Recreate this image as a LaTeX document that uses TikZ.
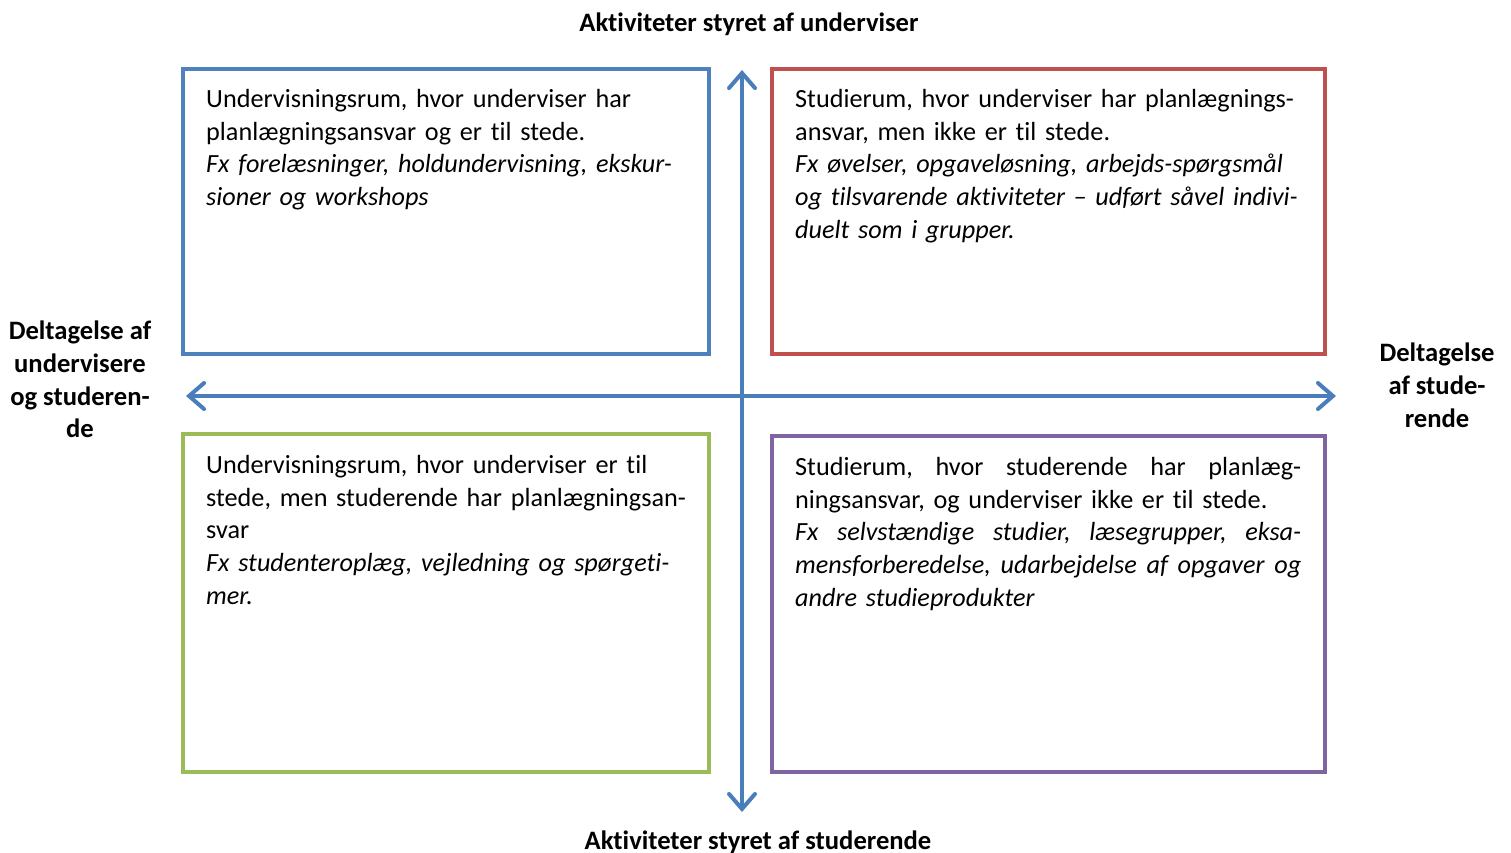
\documentclass[tikz,border=0pt]{standalone}
\usepackage{fontspec}
\setmainfont{Carlito}[Ligatures=NoCommon]
\usetikzlibrary{arrows.meta,fit}
\definecolor{cblue}{HTML}{4F81BD}
\definecolor{cred}{HTML}{C0504D}
\definecolor{cgreen}{HTML}{9BBB59}
\definecolor{cpurple}{HTML}{8064A2}
\definecolor{caxis}{HTML}{4A7EBB}
\newcommand{\jline}[1]{\leavevmode\hbox to 506pt{#1}}
\tikzset{
  quad/.style={draw=#1, line width=4pt, inner sep=0pt, rectangle},
  body/.style={anchor=north west, inner sep=0pt, align=left, text width=#1,
    font=\fontsize{26.2}{32.7}\selectfont},
  lbl/.style={inner sep=0pt, align=center, font=\fontsize{26.6}{32.7}\selectfont\bfseries},
  axis/.style={draw=caxis, line width=4pt, line cap=round,
    {Straight Barb[length=15pt,width=26pt,line cap=round]}-{Straight Barb[length=15pt,width=26pt,line cap=round]}}
}
\begin{document}
\begin{tikzpicture}[x=1pt,y=-1pt]
\useasboundingbox (0,0) rectangle (1511,852);
% quadrant frames
\node[quad=cblue, fit={(183,69) (709,354)}] (q1) {};
\node[quad=cred, fit={(772,69) (1325,354)}] (q2) {};
\node[quad=cgreen, fit={(183,434) (709,772)}] (q3) {};
\node[quad=cpurple, fit={(772,436) (1325,772)}] (q4) {};
% axes
\coordinate (ytop) at (742,70);
\coordinate (ybot) at (742,812);
\coordinate (xl) at (186,396);
\coordinate (xr) at (1336,396);
\draw[axis] (ybot) -- (ytop);
\draw[axis] (xl) -- (xr);
% texts
\node[body=500pt] (t1) at (206,89) {Undervisningsrum, hvor underviser har\\
planlægningsansvar og er til stede.\\
\itshape Fx forelæsninger, holdundervisning, ekskur-\\
\itshape sioner og workshops};
\node[body=530pt] (t2) at (795,89) {Studierum, hvor underviser har planlægnings-\\
ansvar, men ikke er til stede.\\
\itshape Fx øvelser, opgaveløsning, arbejds-spørgsmål\\
\itshape og tilsvarende aktiviteter – udført såvel indivi-\\
\itshape duelt som i grupper.};
\node[body=500pt] (t3) at (206,455) {Undervisningsrum, hvor underviser er til\\
stede, men studerende har planlægningsan-\\
svar\\
\itshape Fx studenteroplæg, vejledning og spørgeti-\\
\itshape mer.};
\node[body=520pt] (t4) at (795,457) {\jline{Studierum,\hfill hvor\hfill studerende\hfill har\hfill planlæg-}\\
ningsansvar, og underviser ikke er til stede.\\
\itshape\jline{Fx\hfill selvstændige\hfill studier,\hfill læsegrupper,\hfill eksa-}\\
\itshape\jline{mensforberedelse,\hfill udarbejdelse\hfill af\hfill opgaver\hfill og}\\
\itshape andre studieprodukter};
% axis labels
\node[lbl, anchor=base] (top) at (749,31) {Aktiviteter styret af underviser};
\node[lbl, anchor=base] (bot) at (758,849) {Aktiviteter styret af studerende};
\node[lbl, anchor=north] (left) at (80,321) {Deltagelse af\\undervisere\\og studeren-\\de};
\node[lbl, anchor=north] (right) at (1437,343) {Deltagelse\\af stude-\\rende};
\end{tikzpicture}
\end{document}
